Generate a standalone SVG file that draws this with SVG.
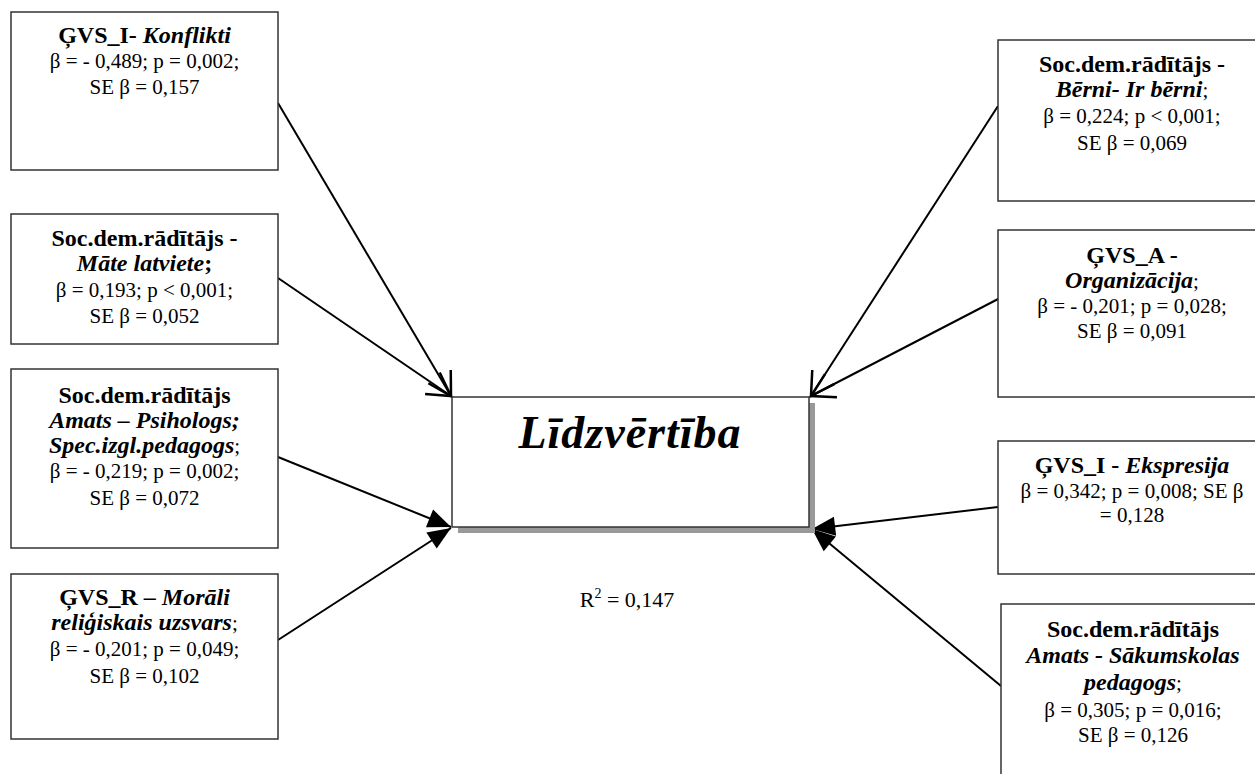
<svg xmlns="http://www.w3.org/2000/svg" width="1255" height="774" viewBox="0 0 1255 774">
<style>
.box{fill:#fff;stroke:#333;stroke-width:1.5}
.t{font-family:"Liberation Serif","Times New Roman","DejaVu Serif",serif;font-size:21px;fill:#000;text-anchor:middle}
.h{font-weight:bold;font-size:24px}
.bi{font-weight:bold;font-style:italic;font-size:24px}
.con{stroke:#000;stroke-width:2;fill:none}
</style>
<defs>
<marker id="open" markerUnits="userSpaceOnUse" markerWidth="30" markerHeight="30" viewBox="-22 -12 24 24" refX="0" refY="0" orient="auto" overflow="visible">
<path d="M-18,-10.4 L0,0 L-18,10.4" fill="none" stroke="#000" stroke-width="2"/>
</marker>
<marker id="fill" markerUnits="userSpaceOnUse" markerWidth="30" markerHeight="30" viewBox="-20 -10 22 20" refX="0" refY="0" orient="auto" overflow="visible">
<path d="M0,0 L-17,-7 L-17,7 Z" fill="#000"/>
</marker>
</defs>

<g id="connectors">
<path class="con" d="M278,103 L451,396" marker-end="url(#open)"/>
<path class="con" d="M278,278 L451,396" marker-end="url(#open)"/>
<path class="con" d="M278,457 L451,527" marker-end="url(#fill)"/>
<path class="con" d="M278,640 L451,528" marker-end="url(#fill)"/>
<path class="con" d="M998,106 L811,396" marker-end="url(#open)"/>
<path class="con" d="M1000,298 L811,396" marker-end="url(#open)"/>
<path class="con" d="M998,507 L812,529" marker-end="url(#fill)"/>
<path class="con" d="M1001,686 L812,529" marker-end="url(#fill)"/>
</g>

<g id="center">
<rect x="458" y="403" width="357" height="130" fill="#999"/>
<rect class="box" x="452" y="397" width="357" height="130"/>
<text class="t" x="630" y="448" style="font-size:46px;font-weight:bold;font-style:italic;letter-spacing:1px">Līdzvērtība</text>
</g>

<g id="r2">
<text class="t" x="627" y="607" style="font-size:22px">R<tspan dy="-9" style="font-size:14px">2</tspan><tspan dy="9"> = 0,147</tspan></text>
</g>

<g id="n-konflikti">
<rect class="box" x="11" y="12" width="267" height="158"/>
<text class="t" x="144.5" y="43"><tspan class="h">ĢVS_I- </tspan><tspan class="bi">Konflikti</tspan></text>
<text class="t" x="144.5" y="68">β = - 0,489; p = 0,002;</text>
<text class="t" x="144.5" y="94">SE β = 0,157</text>
</g>

<g id="n-mate">
<rect class="box" x="11" y="214" width="267" height="130"/>
<text class="t h" x="144.5" y="246">Soc.dem.rādītājs -</text>
<text class="t" x="144.5" y="271"><tspan class="bi">Māte latviete</tspan><tspan class="h">;</tspan></text>
<text class="t" x="144.5" y="297">β = 0,193; p &lt; 0,001;</text>
<text class="t" x="144.5" y="323">SE β = 0,052</text>
</g>

<g id="n-psihologs">
<rect class="box" x="11" y="369" width="267" height="179"/>
<text class="t h" x="144.5" y="403">Soc.dem.rādītājs</text>
<text class="t bi" x="144.5" y="428">Amats – Psihologs;</text>
<text class="t" x="144.5" y="453"><tspan class="bi">Spec.izgl.pedagogs</tspan>;</text>
<text class="t" x="144.5" y="478">β = - 0,219; p = 0,002;</text>
<text class="t" x="144.5" y="505">SE β = 0,072</text>
</g>

<g id="n-morali">
<rect class="box" x="11" y="574" width="267" height="165"/>
<text class="t" x="144.5" y="605"><tspan class="h">ĢVS_R – </tspan><tspan class="bi">Morāli</tspan></text>
<text class="t" x="144.5" y="630"><tspan class="bi">reliģiskais uzsvars</tspan>;</text>
<text class="t" x="144.5" y="656">β = - 0,201; p = 0,049;</text>
<text class="t" x="144.5" y="683">SE β = 0,102</text>
</g>

<g id="n-berni">
<rect class="box" x="998" y="40" width="270" height="161"/>
<text class="t h" x="1132" y="72">Soc.dem.rādītājs -</text>
<text class="t" x="1132" y="97"><tspan class="bi">Bērni- Ir bērni</tspan>;</text>
<text class="t" x="1132" y="123">β = 0,224; p &lt; 0,001;</text>
<text class="t" x="1132" y="150">SE β = 0,069</text>
</g>

<g id="n-organizacija">
<rect class="box" x="998" y="230" width="270" height="167"/>
<text class="t h" x="1132" y="263">ĢVS_A -</text>
<text class="t" x="1132" y="288"><tspan class="bi">Organizācija</tspan>;</text>
<text class="t" x="1132" y="313">β = - 0,201; p = 0,028;</text>
<text class="t" x="1132" y="338">SE β = 0,091</text>
</g>

<g id="n-ekspresija">
<rect class="box" x="998" y="441" width="270" height="133"/>
<text class="t" x="1132" y="473"><tspan class="h">ĢVS_I - </tspan><tspan class="bi">Ekspresija</tspan></text>
<text class="t" x="1132" y="498">β = 0,342; p = 0,008; SE β</text>
<text class="t" x="1132" y="522">= 0,128</text>
</g>

<g id="n-sakumskolas">
<rect class="box" x="1001" y="604" width="270" height="200"/>
<text class="t h" x="1133" y="637">Soc.dem.rādītājs</text>
<text class="t bi" x="1133" y="663">Amats - Sākumskolas</text>
<text class="t" x="1133" y="690"><tspan class="bi">pedagogs</tspan>;</text>
<text class="t" x="1133" y="717">β = 0,305; p = 0,016;</text>
<text class="t" x="1133" y="742">SE β = 0,126</text>
</g>
</svg>
